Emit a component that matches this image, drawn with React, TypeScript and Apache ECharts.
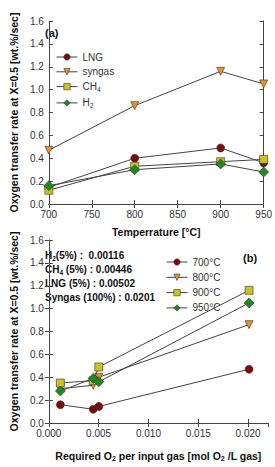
import React, { useEffect, useRef } from "react";
import * as echarts from "echarts";

// ---- data ----
const temps = [700, 800, 900, 950];
const gasNames = ["LNG", "syngas", "CH4", "H2"];
const lngRate = [0.145, 0.40, 0.49, 0.36];
const syngasRate = [0.47, 0.86, 1.16, 1.05];
const ch4Rate = [0.12, 0.33, 0.37, 0.39];
const h2Rate = [0.16, 0.30, 0.35, 0.28];
// required O2 per input gas, same order as gasNames
const requiredO2 = [0.00502, 0.0201, 0.00446, 0.00116];
const tempLabels = ["700°C", "800°C", "900°C", "950°C"];

const gasColors = ["#7a0c0c", "#e8912e", "#c9c41f", "#1f8a1f"];
const gasSymbols = ["circle", "triangle", "rect", "diamond"];
const gasRot = [0, 180, 0, 0];

const FONT = "'Liberation Sans', Arial, Helvetica, sans-serif";

export default function App() {
  const ref = useRef<HTMLDivElement>(null);
  useEffect(() => {
    if (!ref.current) return;
    const chart = echarts.init(ref.current, undefined, { renderer: "svg" });
    const rates = [lngRate, syngasRate, ch4Rate, h2Rate];

    const axisCommon = {
      axisLine: { show: true, lineStyle: { color: "#444", width: 1 } },
      axisTick: { show: true, inside: true, length: 4, lineStyle: { color: "#444" } },
      splitLine: { show: false },
    };
    const labelStyle = { color: "#333", fontSize: 10, fontFamily: FONT, margin: 5 };
    const nameStyle = { color: "#111", fontSize: 10.5, fontWeight: "bold" as const, fontFamily: FONT };
    const subRich = {
      b: { fontSize: 10.5, fontWeight: "bold", fontFamily: FONT, color: "#111" },
      s: { fontSize: 7, fontWeight: "bold", fontFamily: FONT, color: "#111", padding: [6, 0, 0, 0] },
    };

    const mkItemStyle = (i: number) => ({ color: gasColors[i], borderColor: "#333", borderWidth: 0.6 });

    const topSeries = gasNames.map((g, i) => ({
      name: g,
      type: "line",
      xAxisIndex: 0,
      yAxisIndex: 0,
      color: gasColors[i],
      data: temps.map((t, j) => [t, rates[i][j]]),
      symbol: gasSymbols[i],
      symbolRotate: gasRot[i],
      symbolSize: i === 3 ? 10 : 8,
      lineStyle: { color: "#444", width: 1 },
      itemStyle: mkItemStyle(i),
      z: 2 + i,
    }));

    const bottomSeries = temps.map((t, j) => {
      const pts = gasNames.map((g, i) => [requiredO2[i], rates[i][j]]);
      pts.sort((a, b) => a[0] - b[0]);
      return {
        name: tempLabels[j],
        type: "line",
        xAxisIndex: 2,
        yAxisIndex: 2,
        color: gasColors[j],
        data: pts,
        symbol: gasSymbols[j],
        symbolRotate: gasRot[j],
        symbolSize: j === 3 ? 10 : 8,
        lineStyle: { color: "#444", width: 1 },
        itemStyle: mkItemStyle(j),
        z: 2 + j,
      };
    });

    const textLines = [
      "{b|H}{s|2}{b|(5%) :  0.00116}",
      "{b|CH}{s|4}{b| (5%) : 0.00446}",
      "{b|LNG (5%) : 0.00502}",
      "{b|Syngas (100%) : 0.0201}",
    ];
    const textRich = {
      b: { fontSize: 10, fontWeight: "bold", fontFamily: FONT, fill: "#111", color: "#111" },
      s: { fontSize: 6.5, fontWeight: "bold", fontFamily: FONT, fill: "#111", color: "#111", padding: [6, 0, 0, 0] },
    };

    const legendRich = {
      n: { fontSize: 10, fontFamily: FONT, color: "#333" },
      s: { fontSize: 6.5, fontFamily: FONT, color: "#333", padding: [6, 0, 0, 0] },
    };

    const legendItem = (name: string, i: number) => ({
      name,
      itemStyle: mkItemStyle(i),
      lineStyle: { color: "#444", width: 1 },
    });

    chart.setOption({
      animation: false,
      grid: [
        { left: 38, top: 21, width: 230, height: 183 },
        { left: 38, top: 240, width: 230, height: 183 },
      ],
      xAxis: [
        {
          type: "value", gridIndex: 0, min: 700, max: 950, interval: 50, position: "bottom",
          ...axisCommon,
          axisLabel: { ...labelStyle },
          name: "Temperrature [°C]", nameLocation: "middle", nameGap: 22, nameTextStyle: nameStyle,
        },
        {
          type: "value", gridIndex: 0, min: 700, max: 950, interval: 50, position: "top",
          ...axisCommon, axisLabel: { show: false },
        },
        {
          type: "value", gridIndex: 1, min: 0, max: 0.022, interval: 0.005, position: "bottom",
          ...axisCommon,
          axisLabel: { ...labelStyle, showMaxLabel: false, formatter: (v: number) => v.toFixed(3) },
          name: "{b|Required O}{s|2}{b| per input gas [mol O}{s|2}{b| /L gas]}",
          nameLocation: "middle", nameGap: 26,
          nameTextStyle: { ...nameStyle, rich: subRich },
        },
        {
          type: "value", gridIndex: 1, min: 0, max: 0.022, interval: 0.005, position: "top",
          ...axisCommon, axisLabel: { show: false },
        },
      ],
      yAxis: [
        {
          type: "value", gridIndex: 0, min: 0, max: 1.6, interval: 0.2, position: "left",
          ...axisCommon,
          axisLabel: { ...labelStyle, formatter: (v: number) => v.toFixed(1) },
          name: "Oxygen transfer rate at X=0.5 [wt.%/sec]", nameLocation: "middle", nameGap: 24, nameRotate: 90,
          nameTextStyle: nameStyle,
        },
        {
          type: "value", gridIndex: 0, min: 0, max: 1.6, interval: 0.2, position: "right",
          ...axisCommon, axisLabel: { show: false },
        },
        {
          type: "value", gridIndex: 1, min: 0, max: 1.6, interval: 0.2, position: "left",
          ...axisCommon,
          axisLabel: { ...labelStyle, formatter: (v: number) => v.toFixed(1) },
          name: "Oxygen transfer rate at X=0.5 [wt.%/sec]", nameLocation: "middle", nameGap: 24, nameRotate: 90,
          nameTextStyle: nameStyle,
        },
        {
          type: "value", gridIndex: 1, min: 0, max: 1.6, interval: 0.2, position: "right",
          ...axisCommon, axisLabel: { show: false },
        },
      ],
      legend: [
        {
          data: gasNames.map((g, i) => legendItem(g, i)), orient: "vertical", left: 51, top: 47,
          itemWidth: 21, itemHeight: 8, itemGap: 4.8,
          textStyle: { fontSize: 10, fontFamily: FONT, color: "#333", rich: legendRich },
          formatter: (name: string) =>
            name === "CH4" ? "{n|CH}{s|4}" : name === "H2" ? "{n|H}{s|2}" : `{n|${name}}`,
          selectedMode: false,
        },
        {
          data: tempLabels.map((t, i) => legendItem(t, i)), orient: "vertical", left: 161, top: 252,
          itemWidth: 21, itemHeight: 8, itemGap: 5.3,
          textStyle: { fontSize: 10, fontFamily: FONT, color: "#333" },
          selectedMode: false,
        },
      ],
      graphic: [
        { type: "text", left: 45, top: 27, style: { text: "(a)", font: `bold 11px ${FONT}`, fill: "#111" } },
        { type: "text", left: 243, top: 252, style: { text: "(b)", font: `bold 11px ${FONT}`, fill: "#111" } },
        ...textLines.map((t, i) => ({
          type: "text",
          x: 45,
          y: 255 + i * 14,
          style: { text: t, rich: textRich, verticalAlign: "middle", fill: "#111" },
        })),
      ],
      series: [...topSeries, ...bottomSeries],
    });
    return () => chart.dispose();
  }, []);
  return (
    <div
      ref={ref}
      style={{ position: "fixed", left: 0, top: 0, width: 275, height: 467, background: "#fff" }}
    />
  );
}
